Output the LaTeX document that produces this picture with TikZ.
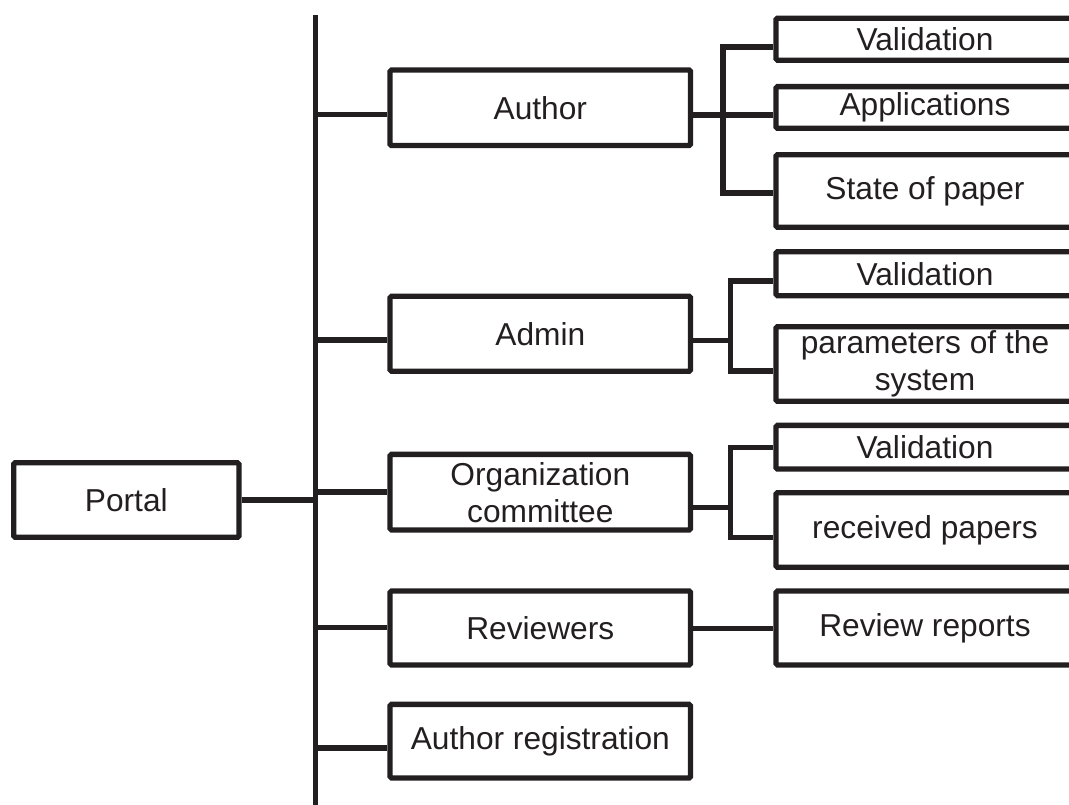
\documentclass[tikz,border=0pt]{standalone}
\usepackage{fontspec}
\setmainfont{Liberation Sans}
\definecolor{ink}{RGB}{35,31,32}
\begin{document}
\begin{tikzpicture}[x=1pt,y=-1pt,
  line width=5.3pt, ink,
  box/.style={draw=ink, line width=5.3pt, rounded corners=1.5pt, inner sep=0pt, text=ink, align=center,
    font=\fontsize{31.7}{37}\selectfont},
  mainbox/.style={box, minimum width=300.5pt},
  leafbox/.style={box, minimum width=298pt}]
\useasboundingbox (0,0) rectangle (1069,805);
\clip (0,0) rectangle (1069,805);
% root
\node[box, minimum width=225.3pt, minimum height=74.6pt] (portal) at (126.3,500) {Portal};
% main boxes
\node[mainbox, minimum height=75.6pt] (author) at (540.3,107.8) {Author};
\node[mainbox, minimum height=75pt] (admin) at (540.3,333.8) {Admin};
\node[mainbox, minimum height=75.7pt] (org) at (540.3,492.2) {Organization\\committee};
\node[mainbox, minimum height=74pt] (rev) at (540.3,628) {Reviewers};
\node[mainbox, minimum height=73.7pt] (reg) at (540.3,741.2) {Author registration};
% leaf boxes
\node[leafbox, minimum height=42pt] (v1) at (925,39.2) {Validation};
\node[leafbox, minimum height=41.7pt] (app) at (925,107.5) {Applications};
\node[leafbox, minimum height=72.6pt] (state) at (925,191) {State of paper};
\node[leafbox, minimum height=44pt] (v2) at (925,273.7) {Validation};
\node[leafbox, minimum height=74.6pt] (param) at (925,364) {parameters of the\\system};
\node[leafbox, minimum height=43.7pt] (v3) at (925,447.2) {Validation};
\node[leafbox, minimum height=74.6pt] (recv) at (925,530) {received papers};
\node[leafbox, minimum height=74pt] (revrep) at (925,628) {Review reports};
% trunk
\coordinate (ttop) at (315.3,15);
\coordinate (tbot) at (315.3,810);
\draw (ttop) -- (tbot);
\coordinate (tportal) at (315.3,500);
\coordinate (tauthor) at (315.3,114.7);
\coordinate (tadmin) at (315.3,340);
\coordinate (torg) at (315.3,492);
\coordinate (trev) at (315.3,627.5);
\coordinate (treg) at (315.3,748);
\draw (portal.east |- tportal) -- (tportal);
\draw (tauthor) -- (tauthor -| author.west);
\draw (tadmin) -- (tadmin -| admin.west);
\draw (torg) -- (torg -| org.west);
\draw (trev) -- (trev -| rev.west);
\draw (treg) -- (treg -| reg.west);
% author branch
\coordinate (ba) at (723,115);
\coordinate (ba1) at (723,47);
\coordinate (ba3) at (723,193);
\draw (author.east |- ba) -- (ba);
\draw[line cap=rect] (ba1) -- (ba3);
\draw (ba1) -- (ba1 -| v1.west);
\draw (ba) -- (ba -| app.west);
\draw (ba3) -- (ba3 -| state.west);
% admin branch
\coordinate (bd) at (730.2,340.7);
\coordinate (bd1) at (730.2,281);
\coordinate (bd2) at (730.2,371);
\draw (admin.east |- bd) -- (bd);
\draw[line cap=rect] (bd1) -- (bd2);
\draw (bd1) -- (bd1 -| v2.west);
\draw (bd2) -- (bd2 -| param.west);
% org branch
\coordinate (bo) at (730.2,507.3);
\coordinate (bo1) at (730.2,447.3);
\coordinate (bo2) at (730.2,537.3);
\draw (org.east |- bo) -- (bo);
\draw[line cap=rect] (bo1) -- (bo2);
\draw (bo1) -- (bo1 -| v3.west);
\draw (bo2) -- (bo2 -| recv.west);
% reviewers branch
\coordinate (br) at (700,628.3);
\draw (rev.east |- br) -- (br -| revrep.west);
\end{tikzpicture}
\end{document}
